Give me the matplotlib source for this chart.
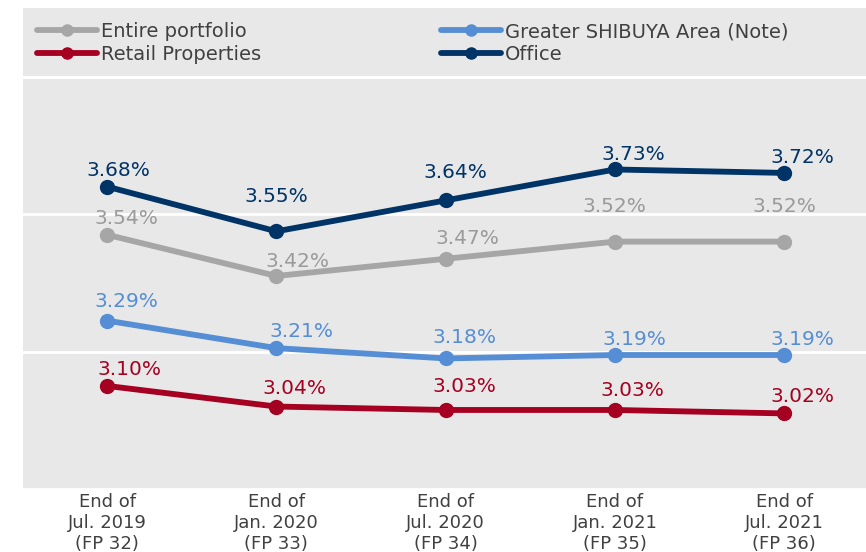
import matplotlib
matplotlib.use("Agg")
import matplotlib.pyplot as plt

categories = ["End of\nJul. 2019\n(FP 32)", "End of\nJan. 2020\n(FP 33)", "End of\nJul. 2020\n(FP 34)",
              "End of\nJan. 2021\n(FP 35)", "End of\nJul. 2021\n(FP 36)"]
entire = [3.54, 3.42, 3.47, 3.52, 3.52]
retail = [3.10, 3.04, 3.03, 3.03, 3.02]
shibuya = [3.29, 3.21, 3.18, 3.19, 3.19]
office = [3.68, 3.55, 3.64, 3.73, 3.72]
series_names = ["Entire portfolio", "Retail Properties", "Greater SHIBUYA Area (Note)", "Office"]

colors = {"Entire portfolio": "#A6A6A6", "Retail Properties": "#A50021",
          "Greater SHIBUYA Area (Note)": "#558ED5", "Office": "#003366"}
label_colors = {"Entire portfolio": "#9A9A9A", "Retail Properties": "#A50021",
                "Greater SHIBUYA Area (Note)": "#558ED5", "Office": "#003366"}
# label offsets in pixels (dx, dy up)
offsets = {
    "Office": [(11, 16), (0, 35), (10, 28), (18, 15), (18, 15)],
    "Entire portfolio": [(19, 16), (21, 14), (22, 20), (0, 35), (0, 35)],
    "Greater SHIBUYA Area (Note)": [(19, 19), (25, 17), (19, 21), (20, 16), (18, 16)],
    "Retail Properties": [(22, 16), (18, 18), (19, 23), (18, 19), (18, 17)],
}

fig = plt.figure(figsize=(8.66, 5.52), dpi=100)
ax = fig.add_axes([22.5 / 866, 63 / 552, 846.25 / 866, 481 / 552])
ax.set_facecolor("#E8E8E8")
for s in ax.spines.values():
    s.set_visible(False)

x = list(range(len(categories)))
data = {"Entire portfolio": entire, "Retail Properties": retail,
        "Greater SHIBUYA Area (Note)": shibuya, "Office": office}
handles = {}
for name in series_names:
    vals = data[name]
    h, = ax.plot(x, vals, color=colors[name], lw=4.2, marker="o", ms=10, zorder=3,
                 solid_capstyle="round")
    handles[name] = h
    for i, v in enumerate(vals):
        dx, dy = offsets[name][i]
        ax.annotate(f"{v:.2f}%", (i, v), xytext=(dx, dy), textcoords="offset pixels",
                    ha="center", va="center", fontsize=14.5, color=label_colors[name], zorder=4)

ax.set_xlim(-0.5, 4.5)
ax.set_ylim(2.8, 4.2)
ax.set_yticks([2.8, 3.2, 3.6, 4.0])
ax.yaxis.grid(True, color="white", lw=2)
ax.set_axisbelow(True)
ax.tick_params(axis="y", length=0, labelleft=False)
ax.set_xticks(x)
ax.set_xticklabels(categories, fontsize=13, color="#404040", linespacing=1.2)
ax.tick_params(axis="x", length=0, pad=3)

leg_kw = dict(frameon=False, fontsize=14, handlelength=3.1, handletextpad=0.2,
              labelspacing=0.2, borderpad=0, borderaxespad=0, labelcolor="#404040")
l1 = fig.legend([handles["Entire portfolio"], handles["Retail Properties"]],
                ["Entire portfolio", "Retail Properties"], loc="upper left",
                bbox_to_anchor=(37 / 866, 1 - 22 / 552), **leg_kw)
l2 = fig.legend([handles["Greater SHIBUYA Area (Note)"], handles["Office"]],
                ["Greater SHIBUYA Area (Note)", "Office"], loc="upper left",
                bbox_to_anchor=(441 / 866, 1 - 22 / 552), **leg_kw)
for leg in (l1, l2):
    for lh in leg.legend_handles:
        lh.set_markersize(8)

fig.savefig("out.png", dpi=100)
